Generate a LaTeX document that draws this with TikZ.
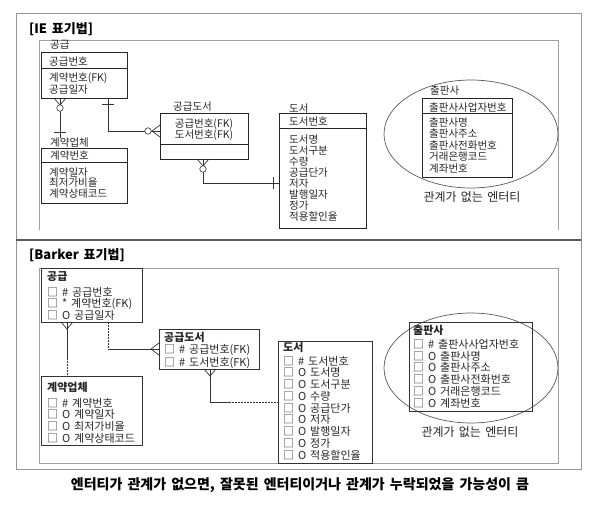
\documentclass[tikz,border=0pt]{standalone}
\usepackage{fontspec}
\setmainfont{Noto Sans CJK KR}[WordSpace=1.6]
\usetikzlibrary{shapes.geometric}
\begin{document}
\begin{tikzpicture}[x=1pt,y=-1pt,
    frame/.style={draw=black!38,line width=0.6pt},
    ent/.style={draw=black!85,line width=0.7pt,anchor=north west,inner sep=0,outer sep=0},
    bent/.style={draw=black!80,line width=0.9pt,anchor=north west,inner sep=0,outer sep=0},
    link/.style={draw=black!80,line width=0.7pt},
    opt/.style={dash pattern=on 1.5pt off 1.5pt},
    ring/.style={circle,draw=black!80,fill=white,line width=0.6pt,minimum size=6.5pt,inner sep=0},
    group/.style={ellipse,draw=black!65,line width=0.7pt,inner sep=0},
    crowdown/.pic={\draw[link] (-6,0) -- (0,7) -- (6,0);},
    crowleft/.pic={\draw[link] (0,-6) -- (-8,0) -- (0,6);},
    barh/.pic={\draw[link] (-6,0) -- (6,0);},
    barv/.pic={\draw[link] (0,-6) -- (0,6);}]
\useasboundingbox (0,0) rectangle (600,504);

% frames
\draw[draw=black!42,line width=0.8pt] (16,13) rectangle (581,469);
\draw[draw=black!65,line width=1.4pt] (16,240) -- (581,240);
\draw[frame] (39,230) -- (39,40) -- (558,40) -- (558,230);
\draw[frame] (39,268) rectangle (558,463);

\begin{scope}[every node/.style={anchor=base west,inner sep=0,font=\fontsize{13}{15}\selectfont\bfseries}]
    \node (ieHead) at (29,33) {[IE 표기법]};
    \node (bkHead) at (29,259) {[Barker 표기법]};
    \node[anchor=base,font=\fontsize{14}{16}\selectfont\bfseries] (caption) at (300,489) {엔터티가 관계가 없으면, 잘못된 엔터티이거나 관계가 누락되었을 가능성이 큼};
\end{scope}

% IE
\node[group,minimum width=174pt,minimum height=108pt] (iePubRing) at (471,134) {};
\node[ent,minimum width=86pt,minimum height=46pt] (ieGong) at (41,52) {};
\node[ent,minimum width=86pt,minimum height=55pt] (ieKye) at (41,148) {};
\node[ent,minimum width=88pt,minimum height=46pt] (ieGd) at (160,113) {};
\node[ent,minimum width=87pt,minimum height=115pt] (ieDoseo) at (279,113) {};
\node[ent,minimum width=90pt,minimum height=79pt] (iePub) at (422,98) {};
\draw[ent] ([yshift=-16pt]ieGong.north west) -- ([yshift=-16pt]ieGong.north east);
\draw[ent] ([yshift=-14pt]ieKye.north west) -- ([yshift=-14pt]ieKye.north east);
\draw[ent] ([yshift=-31pt]ieGd.north west) -- ([yshift=-31pt]ieGd.north east);
\draw[ent] ([yshift=-15pt]ieDoseo.north west) -- ([yshift=-15pt]ieDoseo.north east);
\draw[ent] ([yshift=-15pt]iePub.north west) -- ([yshift=-15pt]iePub.north east);

% multi-line nodes sit on the baseline of their last line
\begin{scope}[every node/.style={anchor=base west,inner sep=0,align=left,text=black!85,font=\fontsize{10.5}{11.5}\selectfont}]
    \node (ieGongName) at (50,48.5) {공급};
    \node (ieGongKey) at (49,65) {공급번호};
    \node[font=\fontsize{10.5}{12}\selectfont] (ieGongAttr) at (49,93) {계약번호(FK)\\공급일자};
    \node (ieKyeName) at (50,146.5) {계약업체};
    \node (ieKyeKey) at (50,159) {계약번호};
    \node[font=\fontsize{10.5}{10.4}\selectfont] (ieKyeAttr) at (49,197.3) {계약일자\\최저가비율\\계약상태코드};
    \node (ieGdName) at (173,110) {공급도서};
    \node[anchor=base,align=center,font=\fontsize{10.5}{11}\selectfont] (ieGdKey) at (204,138.3) {공급번호(FK)\\도서번호(FK)};
    \node (ieDoseoName) at (289,112) {도서};
    \node (ieDoseoKey) at (289,125) {도서번호};
    \node[font=\fontsize{10.5}{11.1}\selectfont] (ieDoseoAttr) at (289,220.7) {도서명\\도서구분\\수량\\공급단가\\저자\\발행일자\\정가\\적용할인율};
    \node (iePubName) at (430,94) {출판사};
    \node (iePubKey) at (429,111) {출판사사업자번호};
    \node (iePubAttr) at (429,172) {출판사명\\출판사주소\\출판사전화번호\\거래은행코드\\계좌번호};
    \node[anchor=base,font=\fontsize{12}{13}\selectfont] (iePubNote) at (472,201.5) {관계가 없는 엔터티};
\end{scope}

\draw[link] ([xshift=19pt]ieGong.south west) -- ([xshift=19pt]ieGong.south west |- ieKyeName.north);
\pic at ([xshift=19pt]ieGong.south west) {crowdown};
\node[ring] (ieRingA) at ([xshift=19pt,yshift=-10pt]ieGong.south west) {};
\pic at ([xshift=19pt,yshift=-34pt]ieGong.south west) {barh};

\draw[link] ([xshift=67pt]ieGong.south west) |- ([yshift=5pt]ieGd.west);
\pic at ([xshift=67pt,yshift=-6pt]ieGong.south west) {barh};
\pic at ([yshift=5pt]ieGd.west) {crowleft};
\node[ring] (ieRingB) at ([xshift=-12pt,yshift=5pt]ieGd.west) {};

\draw[link] ([xshift=43pt]ieGd.south west) |- ([yshift=-12.5pt]ieDoseo.west);
\pic at ([xshift=43pt]ieGd.south west) {crowdown};
\node[ring] (ieRingC) at ([xshift=43pt,yshift=-10pt]ieGd.south west) {};
\pic at ([xshift=-6pt,yshift=-12.5pt]ieDoseo.west) {barv};

% Barker
\node[group,minimum width=174pt,minimum height=110pt] (bPubRing) at (471,368) {};
\node[bent,minimum width=101pt,minimum height=54pt] (bGong) at (41,268) {};
\node[bent,minimum width=101pt,minimum height=69pt] (bKye) at (41,376) {};
\node[bent,minimum width=100pt,minimum height=40pt] (bGd) at (159,329) {};
\node[bent,minimum width=94pt,minimum height=122pt] (bDoseo) at (278,341) {};
\node[bent,minimum width=123pt,minimum height=89pt] (bPub) at (409,322) {};

\begin{scope}[every node/.style={anchor=base west,inner sep=0,align=left,text=black!85,font=\fontsize{11}{11.6}\selectfont}]
    \node[font=\fontsize{11}{12}\selectfont\bfseries] (bGongName) at (47,280.2) {공급};
    \node (bGongAttr) at (47,319.2) {□ \# 공급번호\\□ * 계약번호(FK)\\□ O 공급일자};
    \node[font=\fontsize{11}{12}\selectfont\bfseries] (bKyeName) at (47,391.2) {계약업체};
    \node[font=\fontsize{11}{11.7}\selectfont] (bKyeAttr) at (47,442.2) {□ \# 계약번호\\□ O 계약일자\\□ O 최저가비율\\□ O 계약상태코드};
    \node[font=\fontsize{11}{12}\selectfont\bfseries] (bGdName) at (164,341.2) {공급도서};
    \node[font=\fontsize{11}{13.3}\selectfont] (bGdAttr) at (164,366.9) {□ \# 공급번호(FK)\\□ \# 도서번호(FK)};
    \node[font=\fontsize{11}{12}\selectfont\bfseries] (bDoseoName) at (283,351.2) {도서};
    \node[font=\fontsize{11}{11.75}\selectfont] (bDoseoAttr) at (283,459.2) {□ \# 도서번호\\□ O 도서명\\□ O 도서구분\\□ O 수량\\□ O 공급단가\\□ O 저자\\□ O 발행일자\\□ O 정가\\□ O 적용할인율};
    \node[font=\fontsize{11}{12}\selectfont\bfseries] (bPubName) at (413,334.2) {출판사};
    \node[font=\fontsize{11}{11.8}\selectfont] (bPubAttr) at (413,407.2) {□ \# 출판사사업자번호\\□ O 출판사명\\□ O 출판사주소\\□ O 출판사전화번호\\□ O 거래은행코드\\□ O 계좌번호};
    \node[anchor=base,font=\fontsize{12}{13}\selectfont] (bPubNote) at (470,436.5) {관계가 없는 엔터티};
\end{scope}

\draw[link] ([xshift=26pt]bGong.south west) -- ([xshift=26pt,yshift=-36pt]bGong.south west);
\draw[link,opt] ([xshift=26pt,yshift=-36pt]bGong.south west) -- ([xshift=26pt]bGong.south west |- bKye.north);
\pic at ([xshift=26pt]bGong.south west) {crowdown};

\draw[link,opt] ([xshift=67pt]bGong.south west) -- ([xshift=67pt]bGong.south west |- bGd.west);
\draw[link] ([xshift=67pt]bGong.south west |- bGd.west) -- (bGd.west);
\pic at (bGd.west) {crowleft};

\draw[link] ([xshift=51pt]bGd.south west) |- ([xshift=-49pt]bDoseo.west);
\draw[link,opt] ([xshift=-49pt]bDoseo.west) -- (bDoseo.west);
\pic at ([xshift=51pt]bGd.south west) {crowdown};
\end{tikzpicture}
\end{document}
